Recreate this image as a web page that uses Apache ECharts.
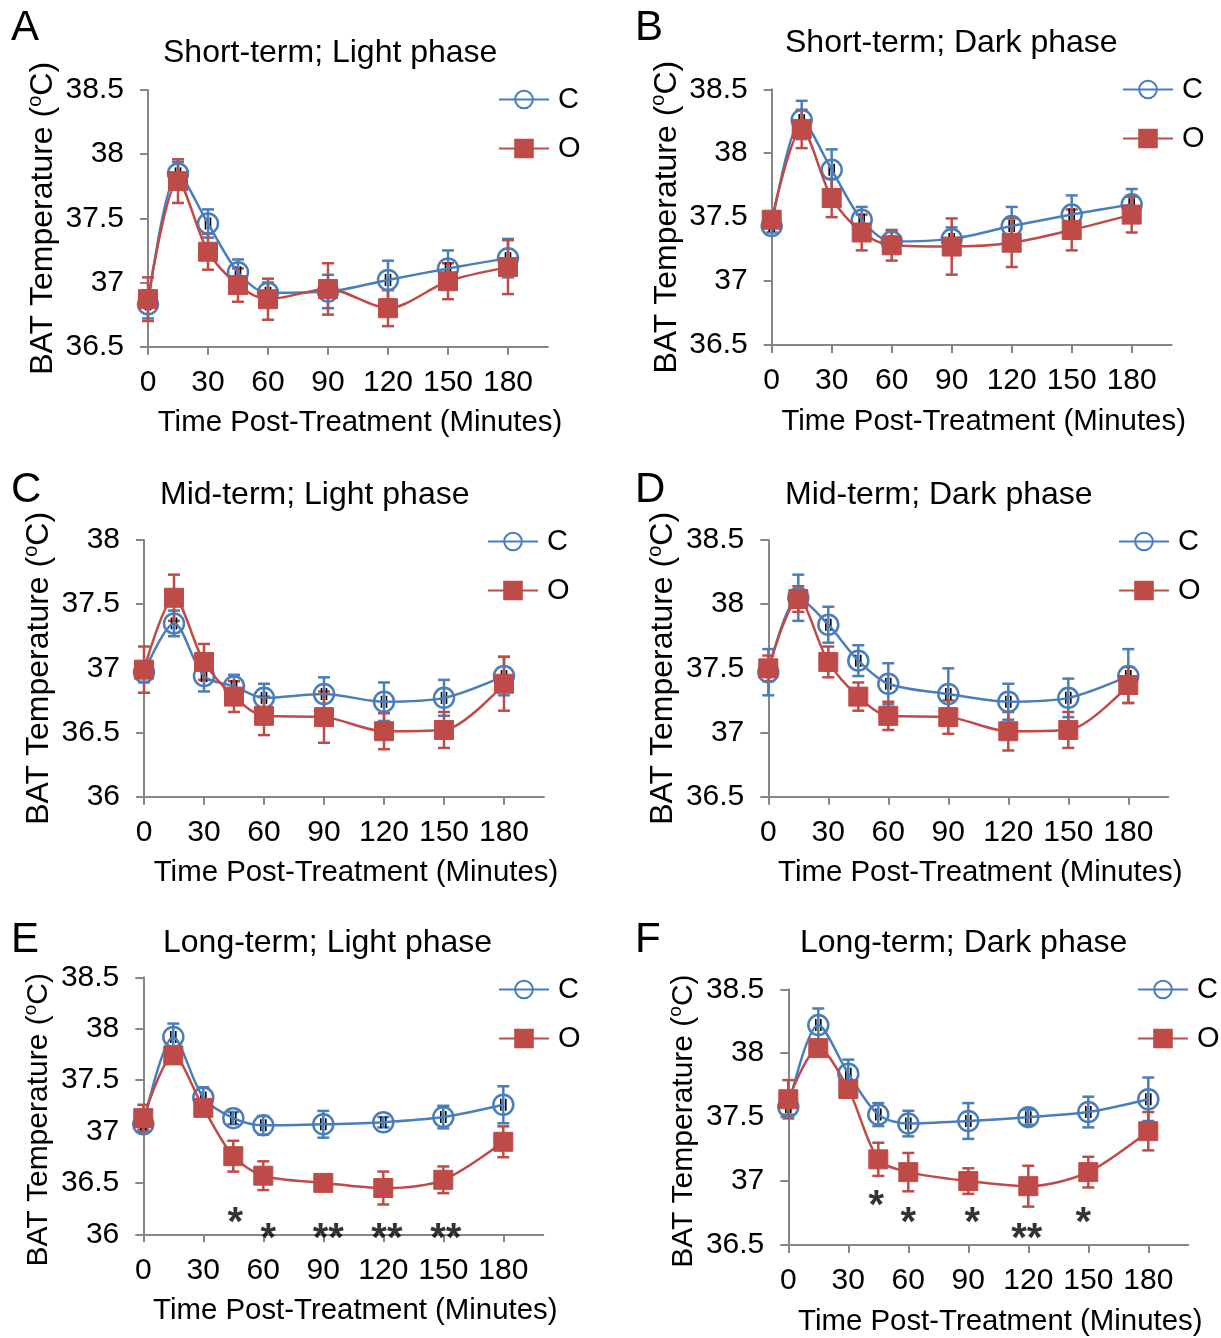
<!DOCTYPE html>
<html><head><meta charset="utf-8">
<script src="https://cdn.jsdelivr.net/npm/echarts@6/dist/echarts.min.js"></script>
<style>html,body{margin:0;padding:0;background:#fff}#chart{width:1221px;height:1338px}</style>
</head><body><div id="chart"></div>
<script>
// ---------- DATA ----------
const times = [0, 15, 30, 45, 60, 90, 120, 150, 180];
const xTickLabels = [0, 30, 60, 90, 120, 150, 180];
const seriesNames = ['C', 'O'];
const panelTitles = ['Short-term; Light phase', 'Short-term; Dark phase', 'Mid-term; Light phase',
                     'Mid-term; Dark phase', 'Long-term; Light phase', 'Long-term; Dark phase'];
const panelLetters = ['A', 'B', 'C', 'D', 'E', 'F'];

// A: Short-term; Light phase
const cMeanA = [36.83, 37.85, 37.46, 37.08, 36.92, 36.93, 37.02, 37.11, 37.19];
const cErrA  = [0.11, 0.09, 0.11, 0.10, 0.08, 0.13, 0.15, 0.14, 0.15];
const oMeanA = [36.87, 37.79, 37.24, 36.98, 36.87, 36.95, 36.80, 37.01, 37.12];
const oErrA  = [0.17, 0.17, 0.14, 0.13, 0.16, 0.20, 0.14, 0.14, 0.21];
// B: Short-term; Dark phase
const cMeanB = [37.43, 38.26, 37.87, 37.48, 37.31, 37.33, 37.43, 37.52, 37.60];
const cErrB  = [0.05, 0.15, 0.16, 0.10, 0.08, 0.09, 0.15, 0.15, 0.12];
const oMeanB = [37.48, 38.19, 37.65, 37.38, 37.28, 37.27, 37.30, 37.40, 37.52];
const oErrB  = [0.06, 0.15, 0.15, 0.14, 0.12, 0.22, 0.19, 0.16, 0.14];
// C: Mid-term; Light phase
const cMeanC = [36.97, 37.35, 36.94, 36.86, 36.77, 36.80, 36.74, 36.77, 36.94];
const cErrC  = [0.08, 0.10, 0.12, 0.09, 0.11, 0.13, 0.15, 0.14, 0.15];
const oMeanC = [36.99, 37.55, 37.05, 36.78, 36.63, 36.62, 36.51, 36.52, 36.88];
const oErrC  = [0.18, 0.18, 0.14, 0.12, 0.15, 0.20, 0.14, 0.14, 0.21];
// D: Mid-term; Dark phase
const cMeanD = [37.47, 38.05, 37.84, 37.56, 37.38, 37.30, 37.24, 37.27, 37.44];
const cErrD  = [0.18, 0.18, 0.14, 0.12, 0.16, 0.20, 0.14, 0.15, 0.21];
const oMeanD = [37.50, 38.04, 37.55, 37.28, 37.13, 37.12, 37.01, 37.02, 37.37];
const oErrD  = [0.10, 0.10, 0.12, 0.11, 0.11, 0.13, 0.15, 0.14, 0.14];
// E: Long-term; Light phase
const cMeanE = [37.07, 37.92, 37.33, 37.13, 37.06, 37.07, 37.09, 37.14, 37.26];
const cErrE  = [0.05, 0.13, 0.10, 0.06, 0.09, 0.13, 0.05, 0.11, 0.18];
const oMeanE = [37.13, 37.74, 37.23, 36.76, 36.57, 36.50, 36.45, 36.53, 36.90];
const oErrE  = [0.13, 0.05, 0.05, 0.15, 0.14, 0.07, 0.16, 0.13, 0.15];
// F: Long-term; Dark phase
const cMeanF = [37.58, 38.22, 37.84, 37.52, 37.45, 37.47, 37.50, 37.54, 37.64];
const cErrF  = [0.06, 0.13, 0.11, 0.09, 0.10, 0.14, 0.06, 0.12, 0.17];
const oMeanF = [37.64, 38.04, 37.72, 37.17, 37.07, 37.00, 36.96, 37.07, 37.39];
const oErrF  = [0.15, 0.05, 0.05, 0.13, 0.15, 0.10, 0.16, 0.12, 0.15];

// significance marks (x, y in data units, text)
const starXE = [46, 62.5, 92.5, 121.8, 151.2];
const starYE = [36.19, 36.035, 36.035, 36.035, 36.035];
const starTE = ['*', '*', '**', '**', '**'];
const starXF = [44, 60, 92, 119.2, 147.5];
const starYF = [36.865, 36.735, 36.735, 36.61, 36.735];
const starTF = ['*', '*', '*', '**', '*'];

// y-axis ranges per panel
const yMin = [36.5, 36.5, 36, 36.5, 36, 36.5];
const yMax = [38.5, 38.5, 38, 38.5, 38.5, 38.5];

// ---------- LAYOUT / STYLE ----------
const FONT = '"Liberation Sans", Arial, sans-serif';
const BLUE = '#4A7EBB', RED = '#BE4B48', AXIS = '#868686';
const layout = [
  {left: 148,   top: 90,    height: 256.7, title: [163, 37],  letter: [11, 7],   legend: [498, 85],  yName: 32, yShift: 0},
  {left: 771.7, top: 89.3,  height: 255.7, title: [785, 27],  letter: [635, 7],  legend: [1122, 75], yName: 32, yShift: 0},
  {left: 144,   top: 540,   height: 256.7, title: [160, 479], letter: [11, 469], legend: [487, 527], yName: 32, yShift: 0},
  {left: 768.3, top: 540,   height: 256.7, title: [785, 479], letter: [635, 469],legend: [1118, 527],yName: 32, yShift: 0},
  {left: 143.3, top: 977.3, height: 257,   title: [163, 927], letter: [11, 919], legend: [498, 975], yName: 30, yShift: 14},
  {left: 788.3, top: 989.3, height: 255.7, title: [800, 927], letter: [635, 919],legend: [1137, 975],yName: 30, yShift: 4}
];
const cMeans = [cMeanA, cMeanB, cMeanC, cMeanD, cMeanE, cMeanF];
const cErrs  = [cErrA, cErrB, cErrC, cErrD, cErrE, cErrF];
const oMeans = [oMeanA, oMeanB, oMeanC, oMeanD, oMeanE, oMeanF];
const oErrs  = [oErrA, oErrB, oErrC, oErrD, oErrE, oErrF];

function errData(means, errs) {
  return times.map((t, i) => [t, means[i] - errs[i], means[i] + errs[i]]);
}
function errRender(params, api) {
  const x = api.value(0);
  const lo = api.coord([x, api.value(1)]);
  const hi = api.coord([x, api.value(2)]);
  const w = 6;
  const style = {stroke: api.visual('color'), lineWidth: 2.5};
  return {type: 'group', children: [
    {type: 'line', shape: {x1: lo[0], y1: lo[1], x2: hi[0], y2: hi[1]}, style},
    {type: 'line', shape: {x1: lo[0] - w, y1: lo[1], x2: lo[0] + w, y2: lo[1]}, style},
    {type: 'line', shape: {x1: hi[0] - w, y1: hi[1], x2: hi[0] + w, y2: hi[1]}, style}
  ]};
}
function tickRender(params, api) {
  const p = api.coord([api.value(0), api.value(1)]);
  const style = {stroke: '#000', lineWidth: 1.6};
  return {type: 'group', children: [
    {type: 'line', shape: {x1: p[0] - 2.5, y1: p[1] - 6, x2: p[0] - 2.5, y2: p[1] + 6}, style},
    {type: 'line', shape: {x1: p[0] + 2.5, y1: p[1] - 6, x2: p[0] + 2.5, y2: p[1] + 6}, style}
  ]};
}

const grid = [], xAxis = [], yAxis = [], series = [], legend = [], title = [];
layout.forEach((L, i) => {
  grid.push({left: L.left, top: L.top, width: 400, height: L.height});
  xAxis.push({
    gridIndex: i, type: 'value', min: 0, max: 200, interval: 30,
    axisLine: {lineStyle: {color: AXIS, width: 2}},
    axisTick: {show: true, length: 8, lineStyle: {color: AXIS, width: 2}, customValues: xTickLabels},
    axisLabel: {customValues: xTickLabels, color: '#000', fontSize: 30, fontFamily: FONT, margin: 21},
    splitLine: {show: false},
    name: 'Time Post-Treatment (Minutes)', nameLocation: 'middle', nameGap: 62,
    nameTextStyle: {fontSize: 29.4, color: '#000', fontFamily: FONT, padding: [0, 0, 0, 24]}
  });
  const ys = L.yName, sh = L.yShift;
  yAxis.push({
    gridIndex: i, type: 'value', min: yMin[i], max: yMax[i], interval: 0.5,
    axisLine: {show: true, lineStyle: {color: AXIS, width: 2}},
    axisTick: {show: true, length: 8, lineStyle: {color: AXIS, width: 2}},
    axisLabel: {color: '#000', fontSize: 30, fontFamily: FONT, margin: 24},
    splitLine: {show: false},
    name: '{n|BAT Temperature (}{s|o}{n|C)}', nameLocation: 'middle', nameGap: 87 + (32 - ys) / 2, nameRotate: 90,
    nameTextStyle: {color: '#000', fontFamily: FONT, padding: [0, sh * 2, 0, 0], rich: {
      n: {fontSize: ys, color: '#000', fontFamily: FONT, lineHeight: ys + 4},
      s: {fontSize: Math.round(ys * 0.62), color: '#000', fontFamily: FONT, verticalAlign: 'top', lineHeight: Math.round(ys * 0.75)}
    }}
  });
  series.push({type: 'custom', name: 'C error ' + panelLetters[i], xAxisIndex: i, yAxisIndex: i,
    data: errData(cMeans[i], cErrs[i]), renderItem: errRender, itemStyle: {color: BLUE}, z: 2, silent: true});
  series.push({type: 'custom', name: 'O error ' + panelLetters[i], xAxisIndex: i, yAxisIndex: i,
    data: errData(oMeans[i], oErrs[i]), renderItem: errRender, itemStyle: {color: RED}, z: 2, silent: true});
  series.push({type: 'custom', name: 'C mark ' + panelLetters[i], xAxisIndex: i, yAxisIndex: i,
    data: times.map((t, k) => [t, cMeans[i][k]]), renderItem: tickRender, z: 2, silent: true});
  series.push({type: 'line', name: seriesNames[0], xAxisIndex: i, yAxisIndex: i, smooth: 0.3,
    data: times.map((t, k) => [t, cMeans[i][k]]),
    symbol: 'circle', symbolSize: 20, showAllSymbol: true,
    lineStyle: {color: BLUE, width: 2.5},
    itemStyle: {color: 'rgba(255,255,255,0)', borderColor: BLUE, borderWidth: 2.5}, z: 3});
  series.push({type: 'line', name: seriesNames[1], xAxisIndex: i, yAxisIndex: i, smooth: 0.3,
    data: times.map((t, k) => [t, oMeans[i][k]]),
    symbol: 'rect', symbolSize: 19, showAllSymbol: true,
    lineStyle: {color: RED, width: 2.5},
    itemStyle: {color: RED, borderColor: RED, borderWidth: 1}, z: 4});
  legend.push({data: seriesNames, orient: 'vertical', left: L.legend[0], top: L.legend[1],
    itemWidth: 50, itemHeight: 22, itemGap: 20, selectedMode: false, padding: 0,
    textStyle: {fontSize: 29, color: '#000', fontFamily: FONT, padding: [0, 0, 0, 4]}});
  title.push({text: panelTitles[i], left: L.title[0], top: L.title[1], padding: 0,
    textStyle: {fontSize: 32, fontWeight: 'normal', color: '#000', fontFamily: FONT}});
  title.push({text: panelLetters[i], left: L.letter[0], top: L.letter[1], padding: 0,
    textStyle: {fontSize: 42, fontWeight: 'normal', color: '#000', fontFamily: FONT}});
});

function starData(xs, ys, ts) { return xs.map((x, k) => ({value: [x, ys[k]], name: ts[k]})); }
[[4, starXE, starYE, starTE], [5, starXF, starYF, starTF]].forEach(([gi, xs, ys, ts]) => {
  series.push({type: 'scatter', name: 'sig ' + panelLetters[gi], xAxisIndex: gi, yAxisIndex: gi,
    data: starData(xs, ys, ts), symbolSize: 1, itemStyle: {color: 'rgba(0,0,0,0)'}, silent: true, z: 5,
    label: {show: true, position: 'inside', formatter: '{b}', offset: [0, 9],
      fontSize: 40, fontWeight: 'bold', color: '#000', fontFamily: FONT}});
});

const chart = echarts.init(document.getElementById('chart'), null, {renderer: 'canvas'});
chart.setOption({animation: false, backgroundColor: '#fff', title, legend, grid, xAxis, yAxis, series});
</script></body></html>
